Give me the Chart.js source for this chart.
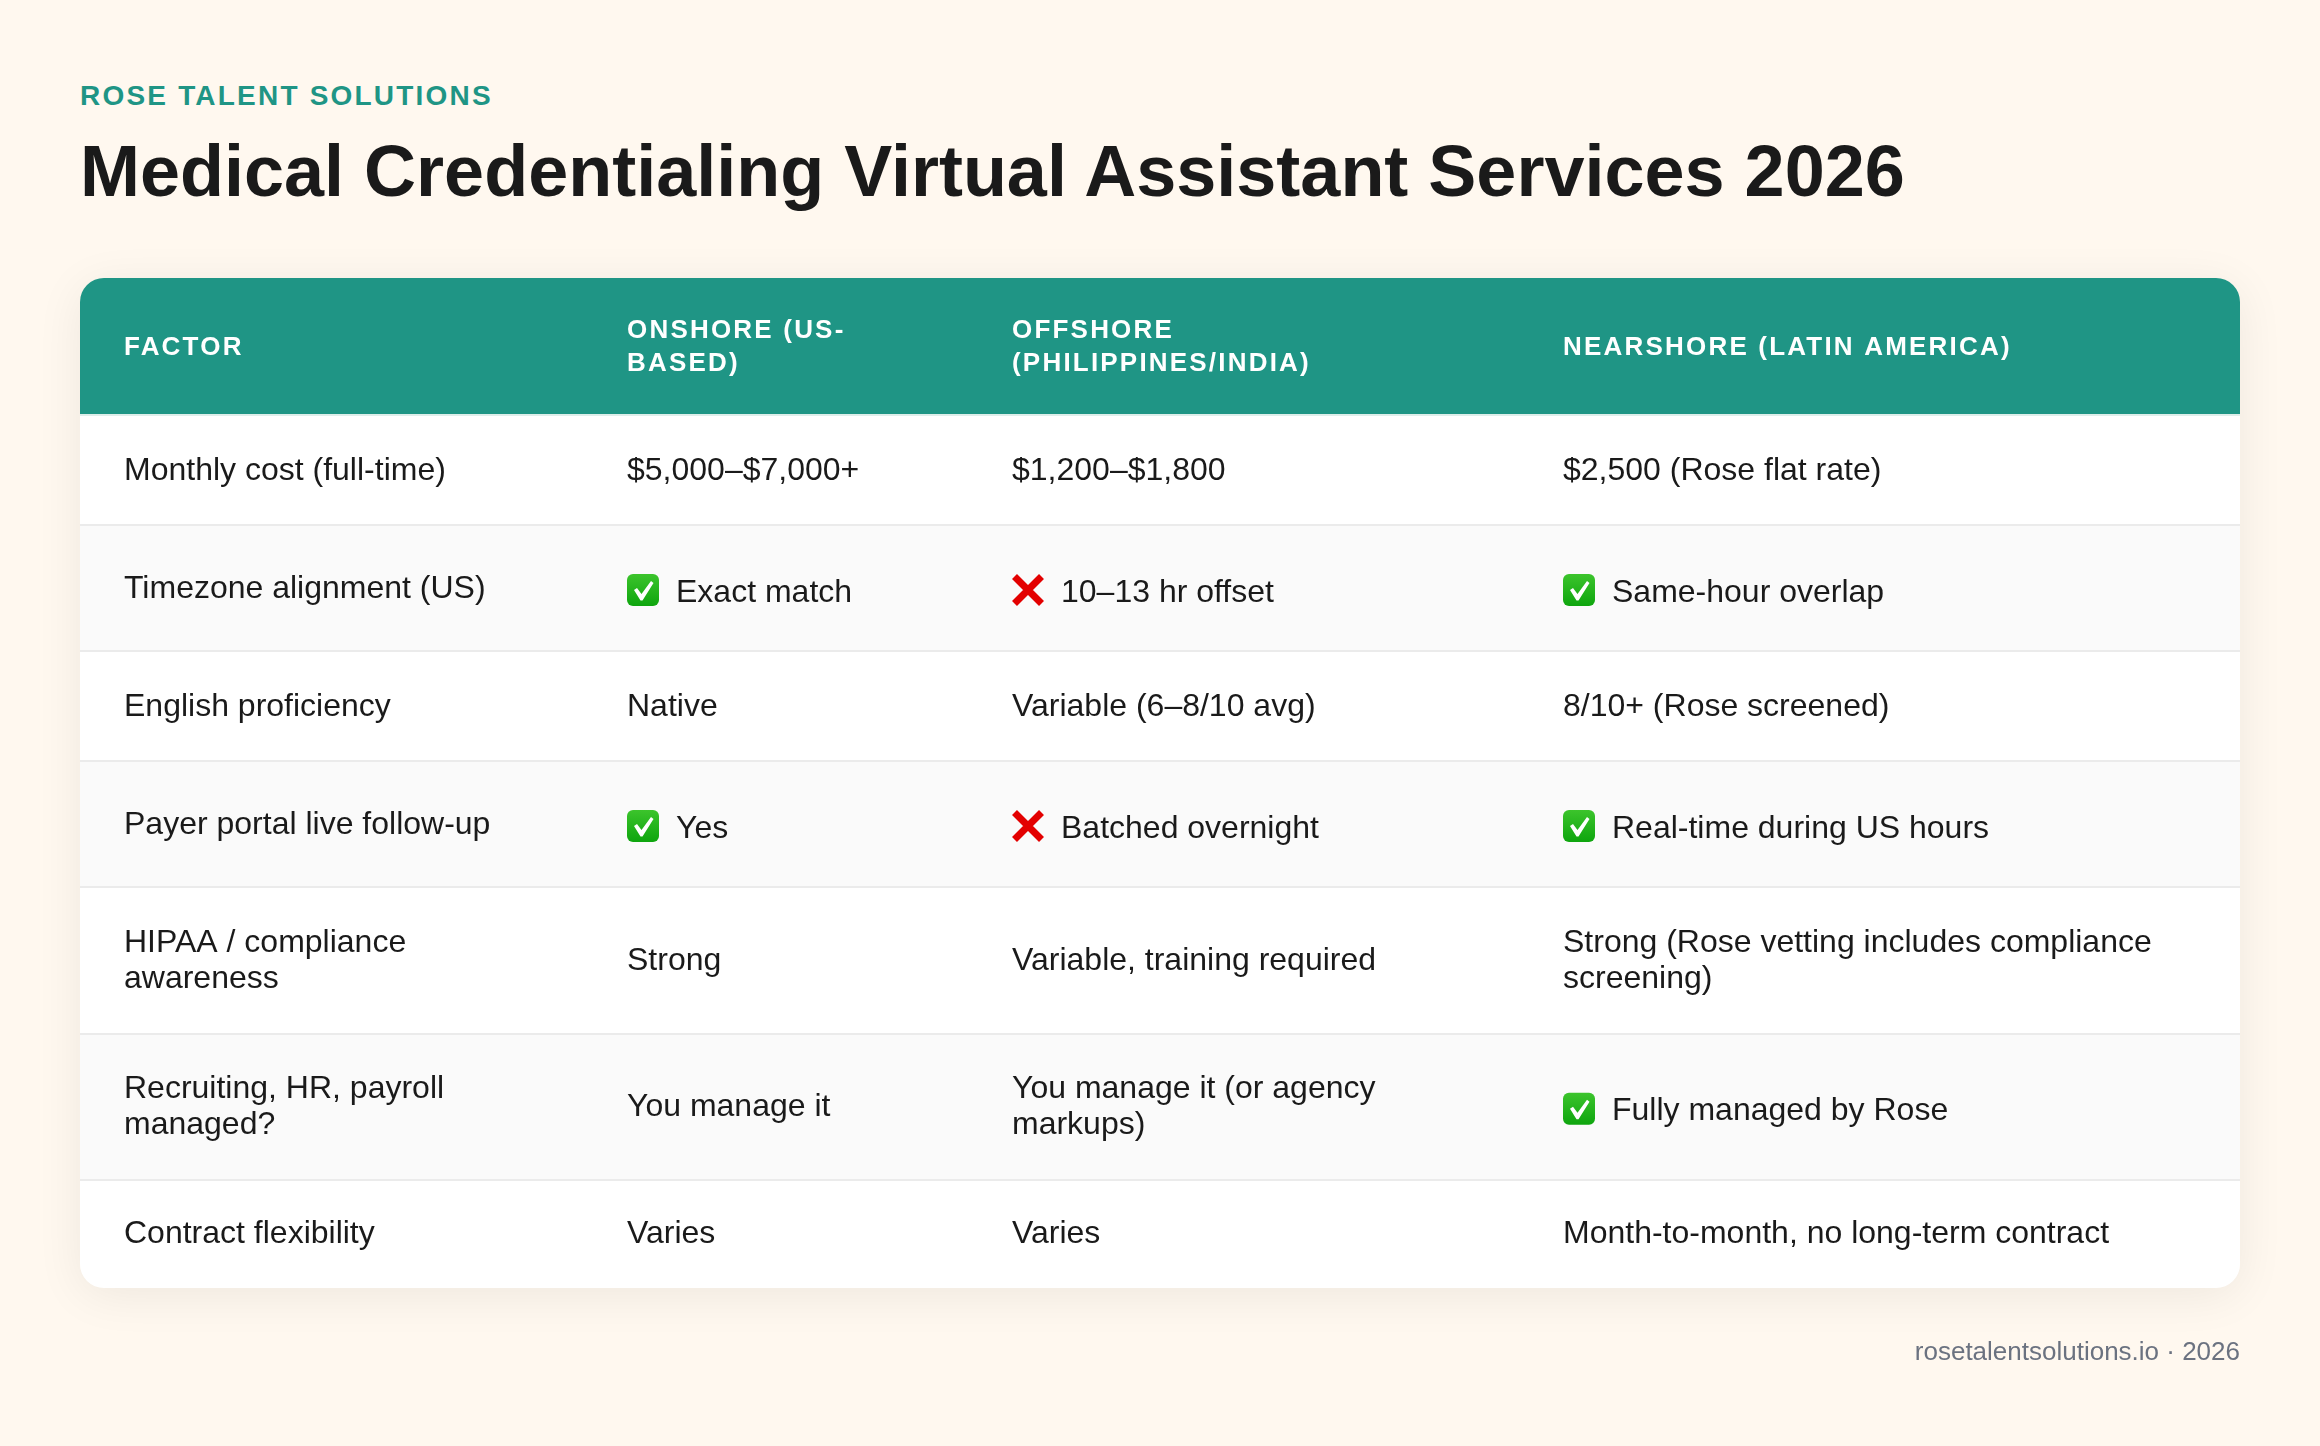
<!DOCTYPE html>
<html><head><meta charset="utf-8">
<script src="https://cdn.jsdelivr.net/npm/chart.js@4"></script>
<style>
html,body{margin:0;padding:0;width:2320px;height:1446px;overflow:hidden;background:#fff8ef;font-family:"Liberation Sans",Arial,sans-serif}
.t{position:absolute;line-height:1;white-space:nowrap}
#eyebrow{left:80px;top:82px;font-size:28px;font-weight:700;letter-spacing:2.2px;color:#1f9585}
#title{left:80px;top:135px;font-size:72px;font-weight:700;color:#1a1a1a;margin:0}
#foot{right:80px;top:1338px;font-size:26px;color:#6b7280}
#card{position:absolute;left:80px;top:278px;width:2160px;height:1009px;border-radius:24px;box-shadow:0 8px 48px rgba(0,0,0,.07)}
canvas{position:absolute;left:0;top:0}
</style></head><body>
<div class="t" id="eyebrow">ROSE TALENT SOLUTIONS</div>
<h1 class="t" id="title">Medical Credentialing Virtual Assistant Services 2026</h1>
<div id="card"></div>
<canvas id="c" width="2320" height="1446"></canvas>
<div class="t" id="foot">rosetalentsolutions.io · 2026</div>
<script>
const headers = ["FACTOR", "ONSHORE (US-\nBASED)", "OFFSHORE\n(PHILIPPINES/INDIA)", "NEARSHORE (LATIN AMERICA)"];
const factors = ["Monthly cost (full-time)", "Timezone alignment (US)", "English proficiency", "Payer portal live follow-up", "HIPAA / compliance\nawareness", "Recruiting, HR, payroll\nmanaged?", "Contract flexibility"];
const onshore = ["$5,000–$7,000+", "✅ Exact match", "Native", "✅ Yes", "Strong", "You manage it", "Varies"];
const offshore = ["$1,200–$1,800", "❌ 10–13 hr offset", "Variable (6–8/10 avg)", "❌ Batched overnight", "Variable, training required", "You manage it (or agency\nmarkups)", "Varies"];
const nearshore = ["$2,500 (Rose flat rate)", "✅ Same-hour overlap", "8/10+ (Rose screened)", "✅ Real-time during US hours", "Strong (Rose vetting includes compliance\nscreening)", "✅ Fully managed by Rose", "Month-to-month, no long-term contract"];
const columnWidths = [503, 385, 551, 721];
const columns = [factors, onshore, offshore, nearshore];

const HEADER_H = 138, ROW_PLAIN = 110, ROW_ICON = 126, ROW_TWO = 146.5, LAST_TRIM = 3;
const hasIcon = s => s.startsWith("✅") || s.startsWith("❌");
const rowHeight = i => {
  const cells = columns.map(c => c[i]);
  let h = cells.some(s => s.includes("\n")) ? ROW_TWO : cells.some(hasIcon) ? ROW_ICON : ROW_PLAIN;
  return i === factors.length - 1 ? h - LAST_TRIM : h;
};
const edges = [0, HEADER_H];
factors.forEach((_, i) => edges.push(edges[edges.length - 1] + rowHeight(i)));
const total = edges[edges.length - 1];
const colEdges = [0];
columnWidths.forEach(w => colEdges.push(colEdges[colEdges.length - 1] + w));

const TEAL = "#1f9585", INK = "#1a1a1a", PAD = 44;
const datasets = [];
for (let i = 0; i < edges.length - 1; i++) {
  const last = i === edges.length - 2;
  datasets.push({
    label: i === 0 ? "header" : factors[i - 1],
    data: [[edges[i], edges[i + 1]]],
    backgroundColor: i === 0 ? TEAL : (i % 2 === 0 ? "#fafafa" : "#ffffff"),
    borderWidth: 0, borderSkipped: false, inflateAmount: 0,
    borderRadius: i === 0 ? {topLeft: 24, topRight: 24, bottomLeft: 0, bottomRight: 0}
      : last ? {topLeft: 0, topRight: 0, bottomLeft: 24, bottomRight: 24} : 0,
    barPercentage: 1, categoryPercentage: 1, grouped: false
  });
}

function drawCheck(ctx, x, cy) {
  const y = cy - 16, s = 32;
  const g = ctx.createLinearGradient(0, y, 0, y + s);
  g.addColorStop(0, "#3cc42c"); g.addColorStop(1, "#0ea50e");
  ctx.fillStyle = g;
  ctx.beginPath(); ctx.roundRect(x, y, s, s, 6); ctx.fill();
  const tick = [[7, 16], [10, 14], [14.5, 20], [24, 7], [26.5, 9], [15.5, 26.5], [13.5, 26.5]];
  ctx.fillStyle = "#ffffff";
  ctx.beginPath();
  tick.forEach(([a, b], i) => i ? ctx.lineTo(x + a, y + b) : ctx.moveTo(x + a, y + b));
  ctx.closePath(); ctx.fill();
}
function drawCross(ctx, x, cy) {
  const y = cy - 16;
  ctx.strokeStyle = "#e30000"; ctx.lineWidth = 7; ctx.lineCap = "butt";
  ctx.beginPath();
  ctx.moveTo(x + 2.5, y + 2.5); ctx.lineTo(x + 29.5, y + 29.5);
  ctx.moveTo(x + 29.5, y + 2.5); ctx.lineTo(x + 2.5, y + 29.5);
  ctx.stroke();
}
const tablePlugin = {
  id: "tableText",
  afterDraw(chart) {
    const ctx = chart.ctx, xs = chart.scales.xc, ys = chart.scales.y;
    ctx.save();
    ctx.textBaseline = "alphabetic"; ctx.textAlign = "left";
    // header
    ctx.font = "700 26px 'Liberation Sans'"; ctx.letterSpacing = "2.2px"; ctx.fillStyle = "#ffffff";
    const hc = ys.getPixelForValue((edges[0] + edges[1] - 2) / 2);
    headers.forEach((h, c) => {
      const x = xs.getPixelForValue(colEdges[c]) + PAD, lines = h.split("\n");
      lines.forEach((l, k) => ctx.fillText(l, x, hc + 8.5 + (k - (lines.length - 1) / 2) * 33));
    });
    // body
    ctx.font = "400 32px 'Liberation Sans'"; ctx.letterSpacing = "0px";
    columns.forEach((col, c) => {
      const x = xs.getPixelForValue(colEdges[c]) + PAD;
      col.forEach((cell, r) => {
        const cy = ys.getPixelForValue((edges[r + 1] + edges[r + 2] - 2) / 2);
        ctx.fillStyle = INK;
        if (hasIcon(cell)) {
          const ok = cell.startsWith("✅");
          if (ok) drawCheck(ctx, x, cy + 2); else drawCross(ctx, x, cy + 2);
          ctx.fillStyle = INK;
          ctx.fillText(cell.replace(/^\S+\s/, ""), x + 49, cy + 13.5);
        } else {
          const lines = cell.split("\n");
          lines.forEach((l, k) => ctx.fillText(l, x, cy + 9.5 + (k - (lines.length - 1) / 2) * 36));
        }
      });
    });
    ctx.restore();
  }
};

new Chart(document.getElementById("c"), {
  type: "bar",
  data: {labels: ["table"], datasets},
  options: {
    responsive: false, animation: false, devicePixelRatio: 1,
    layout: {padding: {left: 80, right: 80, top: 278, bottom: 1446 - 278 - total}},
    plugins: {legend: {display: false}, tooltip: {enabled: false}, title: {display: false}},
    events: [],
    scales: {
      x: {display: false, offset: true},
      xc: {type: "linear", axis: "x", display: false, offset: false, min: 0, max: colEdges[colEdges.length - 1]},
      y: {
        type: "linear", reverse: true, min: 0, max: total, display: true,
        border: {display: false},
        ticks: {display: false},
        afterFit(s) { s.width = 0; },
        afterBuildTicks(s) { s.ticks = edges.slice(1, -1).map(v => ({value: v - 1})); },
        grid: {z: 1, drawTicks: false, lineWidth: 2,
          color: c => c.index === 0 ? "#deeeea" : "#ebebeb"}
      }
    }
  },
  plugins: [tablePlugin]
});
</script>
</body></html>
